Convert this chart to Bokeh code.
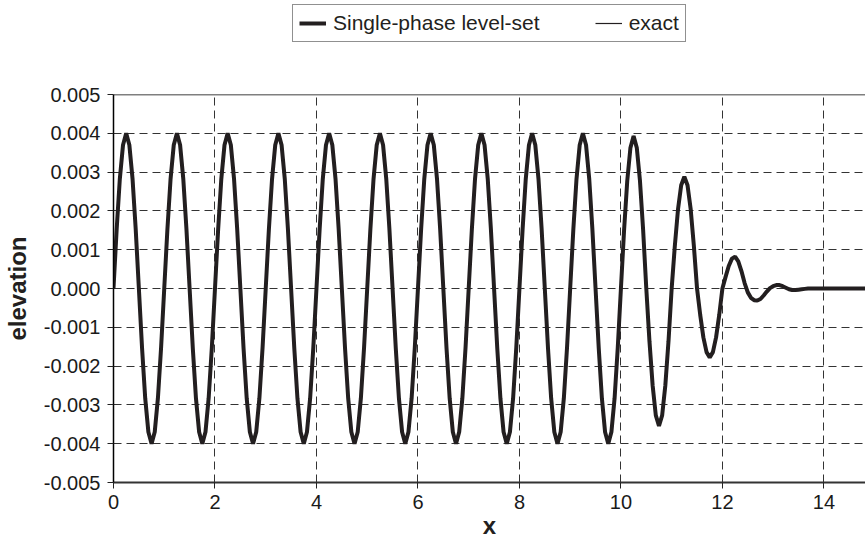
from bokeh.plotting import figure
from bokeh.layouts import column
from bokeh.models import (Legend, LegendItem, Span, FixedTicker,
                          NumeralTickFormatter, Range1d)
from bokeh.embed import file_html
from bokeh.resources import INLINE

# ---- data (samples every 1/16 of a wave period) ----
x_step = 0.0625
elev_levelset = [
    # 0 - 10 : steady waves, amplitude 0.004
    0.0, 0.00153, 0.00283, 0.0037, 0.004, 0.0037, 0.00283, 0.00153,
    0.0, -0.00153, -0.00283, -0.0037, -0.004, -0.0037, -0.00283, -0.00153,
    0.0, 0.00153, 0.00283, 0.0037, 0.004, 0.0037, 0.00283, 0.00153,
    0.0, -0.00153, -0.00283, -0.0037, -0.004, -0.0037, -0.00283, -0.00153,
    0.0, 0.00153, 0.00283, 0.0037, 0.004, 0.0037, 0.00283, 0.00153,
    0.0, -0.00153, -0.00283, -0.0037, -0.004, -0.0037, -0.00283, -0.00153,
    0.0, 0.00153, 0.00283, 0.0037, 0.004, 0.0037, 0.00283, 0.00153,
    0.0, -0.00153, -0.00283, -0.0037, -0.004, -0.0037, -0.00283, -0.00153,
    0.0, 0.00153, 0.00283, 0.0037, 0.004, 0.0037, 0.00283, 0.00153,
    0.0, -0.00153, -0.00283, -0.0037, -0.004, -0.0037, -0.00283, -0.00153,
    0.0, 0.00153, 0.00283, 0.0037, 0.004, 0.0037, 0.00283, 0.00153,
    0.0, -0.00153, -0.00283, -0.0037, -0.004, -0.0037, -0.00283, -0.00153,
    0.0, 0.00153, 0.00283, 0.0037, 0.004, 0.0037, 0.00283, 0.00153,
    0.0, -0.00153, -0.00283, -0.0037, -0.004, -0.0037, -0.00283, -0.00153,
    0.0, 0.00153, 0.00283, 0.0037, 0.004, 0.0037, 0.00283, 0.00153,
    0.0, -0.00153, -0.00283, -0.0037, -0.004, -0.0037, -0.00283, -0.00153,
    0.0, 0.00153, 0.00283, 0.0037, 0.004, 0.0037, 0.00283, 0.00153,
    0.0, -0.00153, -0.00283, -0.0037, -0.004, -0.0037, -0.00283, -0.00153,
    0.0, 0.00153, 0.00283, 0.0037, 0.004, 0.0037, 0.00283, 0.00153,
    0.0, -0.00153, -0.00283, -0.0037, -0.004, -0.0037, -0.00283, -0.00153,
    # 10 - 12 : front of the wave train
    0.0, 0.00151, 0.00278, 0.00363, 0.00393, 0.00363, 0.00278, 0.00151,
    0.0, -0.00136, -0.0025, -0.00327, -0.00354, -0.00327, -0.0025, -0.00136,
    0.0, 0.0011, 0.00204, 0.00266, 0.00288, 0.00266, 0.00204, 0.0011,
    0.0, -0.00068, -0.00126, -0.00164, -0.00178, -0.00164, -0.00126, -0.00068,
    # 12 - 13.7 : decaying tail
    0.0, 0.0003, 0.00058, 0.00077, 0.00082, 0.0007, 0.00045, 0.00014,
    -0.0001, -0.00024, -0.0003, -0.00031, -0.00027, -0.00018, -0.00008, 0.00001,
    0.00006, 0.00009, 0.00009, 0.00006, 0.00002, -0.00002, -0.00004, -0.00004,
    -0.00003, -0.00002, -0.00001, 0.0,
    # 13.75 - 15 : still water
    0.0, 0.0, 0.0, 0.0, 0.0, 0.0, 0.0, 0.0, 0.0, 0.0, 0.0,
    0.0, 0.0, 0.0, 0.0, 0.0, 0.0, 0.0, 0.0, 0.0, 0.0,
]
elev_exact = list(elev_levelset)
x_vals = [i * x_step for i in range(len(elev_levelset))]

x_ticks = [0, 2, 4, 6, 8, 10, 12, 14]
y_ticks = [-0.005, -0.004, -0.003, -0.002, -0.001, 0.0,
           0.001, 0.002, 0.003, 0.004, 0.005]
series_names = ["Single-phase level-set", "exact"]

FONT = "Liberation Sans"
INK = "#231f20"
THICK, THIN = 4, 1.2

# ---------------- legend strip (top of page) ----------------
# the series are drawn here outside the visible range: only the legend shows
lf = figure(width=865, height=70, output_backend="svg", toolbar_location=None,
            x_range=Range1d(0, 1), y_range=Range1d(1, 2),
            x_axis_type=None, y_axis_type=None,
            min_border_left=113, min_border_right=0, min_border_top=0,
            min_border_bottom=0)
lf.outline_line_color = None
lf.xgrid.visible = False
lf.ygrid.visible = False
lf.border_fill_color = "white"
lf.background_fill_color = "white"
k1 = lf.line(x_vals, elev_levelset, line_color=INK, line_width=THICK)
k2 = lf.line(x_vals, elev_exact, line_color=INK, line_width=THIN)
legend = Legend(items=[LegendItem(label=series_names[0], renderers=[k1]),
                       LegendItem(label=series_names[1], renderers=[k2])],
                orientation="horizontal", location=(179, 28))
legend.label_text_font = FONT
legend.label_text_font_size = "21px"
legend.label_text_color = INK
legend.glyph_width = 27
legend.label_standoff = 7
legend.spacing = 55
legend.padding = 6
legend.margin = 0
legend.border_line_color = "#222222"
legend.border_line_width = 1
legend.background_fill_color = "white"
legend.background_fill_alpha = 1.0
lf.add_layout(legend)

# ---------------- main chart ----------------
p = figure(width=865, height=472, output_backend="svg", toolbar_location=None,
           x_range=Range1d(0, 14.82), y_range=Range1d(-0.005, 0.005),
           min_border_left=113, min_border_right=0, min_border_top=24,
           min_border_bottom=60)
p.outline_line_color = None
p.background_fill_color = "white"
p.border_fill_color = "white"

p.line(x_vals, elev_levelset, line_color=INK, line_width=THICK)
p.line(x_vals, elev_exact, line_color=INK, line_width=THIN)

# top frame border
p.add_layout(Span(location=0.005, dimension="width", line_color="black", line_width=1.5))

# axes
p.xaxis.ticker = FixedTicker(ticks=x_ticks)
p.yaxis.ticker = FixedTicker(ticks=y_ticks)
p.yaxis.formatter = NumeralTickFormatter(format="0.000")
for ax in (p.xaxis[0], p.yaxis[0]):
    ax.major_label_text_font = FONT
    ax.major_label_text_font_size = "20px"
    ax.major_label_text_color = "#1a1a1a"
    ax.axis_label_text_font = FONT
    ax.axis_label_text_font_style = "bold"
    ax.axis_label_text_font_size = "24px"
    ax.axis_label_text_color = INK
    ax.major_tick_out = 6
    ax.major_tick_in = 0
    ax.minor_tick_out = 0
    ax.minor_tick_in = 0
    ax.major_tick_line_color = "#222222"
p.xaxis.axis_label = "x"
p.yaxis.axis_label = "elevation"
p.yaxis.axis_line_color = "black"
p.yaxis.axis_line_width = 1.5
p.xaxis.axis_line_color = "#333333"
p.xaxis.axis_line_width = 2
p.yaxis.major_label_standoff = 7
p.xaxis.major_label_standoff = 6
p.yaxis.axis_label_standoff = 10
p.xaxis.axis_label_standoff = 0

# grid
for g in (p.xgrid[0], p.ygrid[0]):
    g.grid_line_color = "#333333"
    g.grid_line_dash = "8 5"
    g.grid_line_width = 1
    g.grid_line_alpha = 1.0

open("out.html", "w").write(file_html(column(lf, p, spacing=0), INLINE))
